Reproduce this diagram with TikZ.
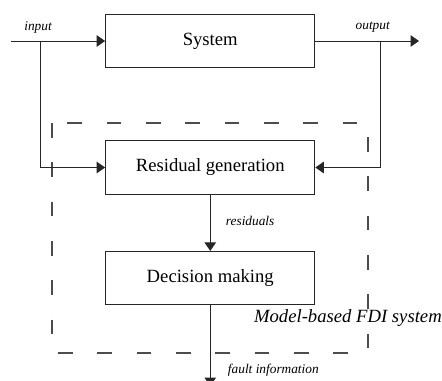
\documentclass[tikz,border=0pt]{standalone}
\usepackage{fontspec}
\setmainfont{Liberation Serif}
\usepackage{tikz}
\usetikzlibrary{arrows.meta,positioning}

\begin{document}
\begin{tikzpicture}[x=0.75pt, y=-0.75pt,
    block/.style={draw=black!85, line width=0.7pt, minimum width=157pt, minimum height=40pt,
      inner sep=0pt, font=\fontsize{14}{16}\selectfont},
    sig/.style={-{Triangle[length=6.3pt, width=8.6pt]}, line width=0.7pt, draw=black!85},
    lbl/.style={font=\fontsize{10}{12}\selectfont\itshape, inner sep=0pt},
    frame/.style={draw=black!70, line width=0.8pt, dash pattern=on 11pt off 18.5pt}]
        \useasboundingbox (0,0) rectangle (442,380);
        \clip (0,0) rectangle (442,380);
        % blocks
        \node[block] (sys) at (210.25,41) {System};
        \node[block] (res) at (210.25,167.5) {Residual generation};
        \node[block] (dec) at (210.25,278) {Decision making};
        % dashed FDI frame
        \draw[frame] (52,123) rectangle (368,353);
        \node[anchor=east, font=\fontsize{14}{16}\selectfont\itshape, inner sep=0pt] (fdi) at (442,318) {Model-based FDI system};
        % signals
        \coordinate (in) at (11,41);
        \coordinate (inbr) at (40,41);
        \coordinate (out) at (419,41);
        \coordinate (outbr) at (380,41);
        \coordinate (fault) at (210.25,386);
        \draw[sig] (in) -- (sys.west);
        \draw[sig] (inbr) |- (res.west);
        \draw[sig] (sys.east) -- (out);
        \draw[sig] (outbr) |- (res.east);
        \draw[sig] (res.south) -- (dec.north);
        \draw[sig] (dec.south) -- (fault);
        \node[lbl] (inl) at (38,27) {input};
        \node[lbl] (outl) at (372.7,27) {output};
        \node[lbl, anchor=west] (resl) at (225.7,221) {residuals};
        \node[lbl, anchor=west] (faultl) at (227.7,370) {fault information};
      \end{tikzpicture}
\end{document}
